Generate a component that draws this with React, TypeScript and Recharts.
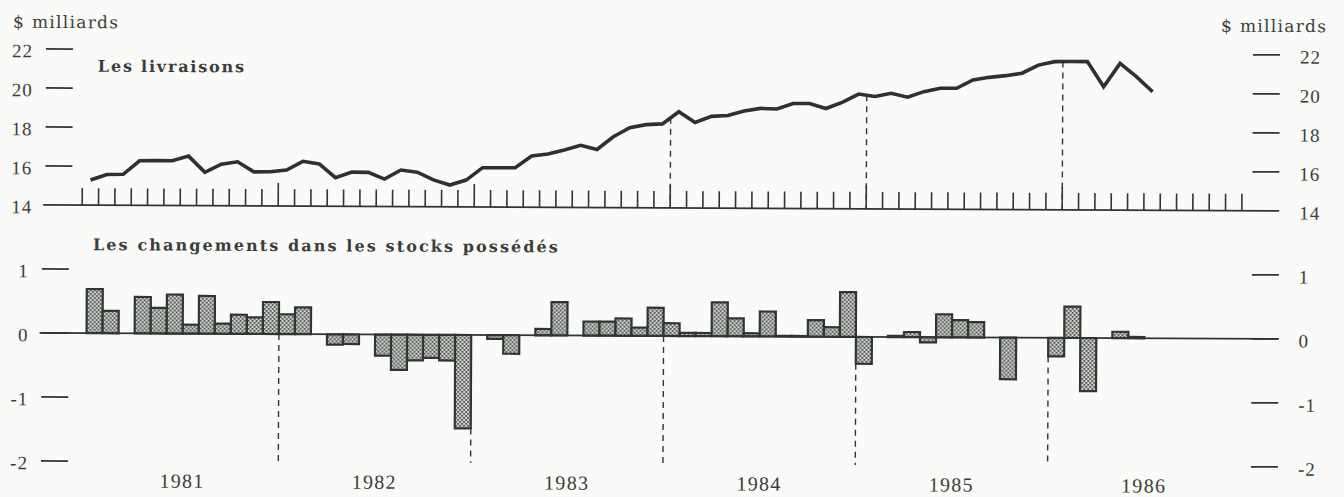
import React from "react";
import { LineChart, Line, ComposedChart, Bar, XAxis, YAxis, ReferenceLine } from "recharts";

const YEARS = ["1981", "1982", "1983", "1984", "1985", "1986"];
const MONTHS = YEARS.flatMap((y) => Array.from({ length: 12 }, (_, i) => `${y}-${i + 1}`));

// livraisons mensuelles, $ milliards (janv. 1981 - juin 1986)
const SHIPMENTS = [
  15.29, 15.58, 15.59, 16.29, 16.3, 16.3, 16.54, 15.71, 16.13, 16.26, 15.75, 15.76,
  15.85, 16.3, 16.17, 15.47, 15.76, 15.75, 15.41, 15.88, 15.77, 15.38, 15.12, 15.38,
  16.02, 16.02, 16.03, 16.63, 16.74, 16.95, 17.19, 16.98, 17.64, 18.11, 18.27, 18.31,
  18.94, 18.39, 18.71, 18.76, 18.99, 19.13, 19.1, 19.39, 19.39, 19.14, 19.46, 19.89,
  19.77, 19.94, 19.74, 20.03, 20.21, 20.21, 20.64, 20.78, 20.87, 21.0, 21.42, 21.6,
  21.61, 21.61, 20.33, 21.53, 20.85, 20.08,
];

// changements dans les stocks possédés, $ milliards
const STOCK_CHANGES = [
  0.69, 0.35, 0, 0.57, 0.4, 0.61, 0.14, 0.59, 0.16, 0.3, 0.26, 0.5,
  0.31, 0.42, 0, -0.16, -0.15, 0, -0.33, -0.55, -0.4, -0.36, -0.4, -1.46,
  0, -0.06, -0.29, 0, 0.1, 0.52, 0, 0.22, 0.22, 0.27, 0.13, 0.44,
  0.2, 0.05, 0.05, 0.53, 0.28, 0.05, 0.39, 0.01, 0.01, 0.26, 0.15, 0.7,
  -0.42, 0, 0.02, 0.08, -0.08, 0.36, 0.27, 0.24, 0, -0.65, 0, 0,
  -0.29, 0.49, -0.83, 0, 0.1, 0.02,
];

const SHIP_TICKS = [14, 16, 18, 20, 22];
const STOCK_TICKS = [-2, -1, 0, 1];
const SHIP_DASHED = [36, 48, 60];
const STOCK_DASHED = [12, 24, 36, 48, 60];

const BG = "#fafaf8";
const INK = "#303531";
const TEXT = "#3a3e3a";
const NUM_FONT = "'Liberation Serif', 'Times New Roman', serif";
const TITLE_FONT = "'DejaVu Serif', serif";

const shipData = SHIPMENTS.map((v, i) => ({ x: i + 0.5, v }));
const stockData = MONTHS.map((m, i) => ({
  m,
  x: i + 0.5,
  c: i < STOCK_CHANGES.length ? STOCK_CHANGES[i] : null,
}));
const monthTicks = MONTHS.map((_, i) => i);
const yearTicks = YEARS.map((_, i) => i * 12 + 6);

function MonthTick({ x, y, payload }: any) {
  const yearStart = payload.value > 0 && payload.value % 12 === 0;
  return <line x1={x} x2={x} y1={y} y2={y - (yearStart ? 23 : 17)} stroke={INK} strokeWidth={1.6} />;
}

function SideTick({ x, y, payload, side, noDash }: any) {
  const left = side === "left";
  return (
    <g>
      {!noDash && (
        <line
          x1={left ? x + 2 : x - 27}
          x2={left ? x + 29 : x}
          y1={y}
          y2={y}
          stroke={INK}
          strokeWidth={1.7}
        />
      )}
      <text
        x={left ? x - 11 : x + 20}
        y={y}
        dy="0.45em"
        textAnchor={left ? "end" : "start"}
        fontFamily={NUM_FONT}
        fontSize={19}
        letterSpacing={1}
        fill={TEXT}
      >
        {payload.value}
      </text>
    </g>
  );
}

export default function App() {
  return (
    <div style={{ position: "absolute", left: 0, top: 0, width: 1344, height: 497, background: BG, overflow: "hidden" }}>
      <div
        style={{
          position: "absolute",
          left: 0,
          top: 0,
          width: 1344,
          height: 497,
          transform: "rotate(0.28deg)",
          transformOrigin: "672px 248px",
        }}
      >
        <svg width={0} height={0} style={{ position: "absolute" }}>
          <defs>
            <pattern id="stip" width={4} height={4} patternUnits="userSpaceOnUse">
              <rect width={4} height={4} fill="#d2d5d1" />
              <rect x={0} y={0} width={1.8} height={1.8} fill="#454a45" />
              <rect x={2} y={2} width={1.8} height={1.8} fill="#454a45" />
            </pattern>
          </defs>
        </svg>

        <div style={{ position: "absolute", left: 0, top: 0 }}>
          <LineChart width={1344} height={230} data={shipData} margin={{ top: 52, right: 0, bottom: 21, left: 0 }}>
            <XAxis
              dataKey="x"
              type="number"
              domain={[0, 72]}
              ticks={monthTicks}
              interval={0}
              height={1}
              padding={{ left: 39, right: 21 }}
              tickSize={0}
              tickMargin={0}
              axisLine={{ stroke: INK, strokeWidth: 1.8 }}
              tick={(p: any) => <MonthTick {...p} />}
            />
            <YAxis
              yAxisId="l"
              width={43}
              domain={[14, 22]}
              ticks={SHIP_TICKS}
              interval={0}
              allowDataOverflow
              axisLine={false}
              tickLine={false}
              tickSize={0}
              tickMargin={0}
              tick={(p: any) => <SideTick {...p} side="left" noDash={p.payload.value === 14} />}
            />
            <YAxis
              yAxisId="r"
              orientation="right"
              width={65}
              domain={[14, 22]}
              ticks={SHIP_TICKS}
              interval={0}
              allowDataOverflow
              axisLine={false}
              tickLine={false}
              tickSize={0}
              tickMargin={0}
              tick={(p: any) => <SideTick {...p} side="right" noDash={p.payload.value === 14} />}
            />
            {SHIP_DASHED.map((k) => (
              <ReferenceLine
                key={k}
                yAxisId="l"
                segment={[
                  { x: k, y: (SHIPMENTS[k - 1] + SHIPMENTS[k]) / 2 },
                  { x: k, y: 14 },
                ]}
                stroke={INK}
                strokeWidth={1.4}
                strokeDasharray="6 5"
              />
            ))}
            <Line
              yAxisId="l"
              dataKey="v"
              type="linear"
              stroke="#2c322e"
              strokeWidth={3.6}
              dot={false}
              activeDot={false}
              isAnimationActive={false}
            />
          </LineChart>
        </div>

        <div style={{ position: "absolute", left: 0, top: 230 }}>
          <ComposedChart
            width={1344}
            height={267}
            data={stockData}
            barCategoryGap={0}
            margin={{ top: 42, right: 0, bottom: 3, left: 0 }}
          >
            <XAxis xAxisId="m" dataKey="m" hide height={0} padding={{ left: 47, right: 38 }} />
            <XAxis
              xAxisId="y"
              dataKey="x"
              type="number"
              domain={[0, 72]}
              ticks={yearTicks}
              interval={0}
              height={30}
              padding={{ left: 47, right: 38 }}
              axisLine={false}
              tickLine={false}
              tickSize={0}
              tickMargin={12}
              tickFormatter={(v: number) => YEARS[Math.floor(v / 12)]}
              tick={{ fontFamily: NUM_FONT, fontSize: 20, fill: TEXT, letterSpacing: 1.3 }}
            />
            <YAxis
              yAxisId="l"
              width={40}
              domain={[-2, 1]}
              ticks={STOCK_TICKS}
              interval={0}
              allowDataOverflow
              axisLine={false}
              tickLine={false}
              tickSize={0}
              tickMargin={0}
              tick={(p: any) => <SideTick {...p} side="left" />}
            />
            <YAxis
              yAxisId="r"
              orientation="right"
              width={65}
              domain={[-2, 1]}
              ticks={STOCK_TICKS}
              interval={0}
              allowDataOverflow
              axisLine={false}
              tickLine={false}
              tickSize={0}
              tickMargin={0}
              tick={(p: any) => <SideTick {...p} side="right" />}
            />
            {STOCK_DASHED.map((k) => (
              <ReferenceLine
                key={k}
                xAxisId="y"
                yAxisId="l"
                segment={[
                  { x: k, y: Math.min(0, STOCK_CHANGES[k - 1], STOCK_CHANGES[k]) },
                  { x: k, y: -2 },
                ]}
                stroke={INK}
                strokeWidth={1.4}
                strokeDasharray="6 5"
              />
            ))}
            <Bar
              xAxisId="m"
              yAxisId="l"
              dataKey="c"
              fill="url(#stip)"
              stroke={INK}
              strokeWidth={2.2}
              isAnimationActive={false}
            />
            <ReferenceLine xAxisId="m" yAxisId="l" y={0} stroke={INK} strokeWidth={1.8} />
          </ComposedChart>
        </div>

        <svg
          width={1344}
          height={497}
          style={{ position: "absolute", left: 0, top: 0, pointerEvents: "none" }}
        >
          <g fill={TEXT} fontFamily={TITLE_FONT}>
            <text x={12} y={31} fontSize={17} letterSpacing={1.3}>
              $ milliards
            </text>
            <text x={1220} y={29} fontSize={17} letterSpacing={1.3}>
              $ milliards
            </text>
            <text x={97} y={74.5} fontSize={16} fontWeight="bold" letterSpacing={1.8}>
              Les livraisons
            </text>
            <text x={93} y={253} fontSize={16} fontWeight="bold" letterSpacing={2.1}>
              Les changements dans les stocks possédés
            </text>
          </g>
        </svg>
      </div>
    </div>
  );
}
